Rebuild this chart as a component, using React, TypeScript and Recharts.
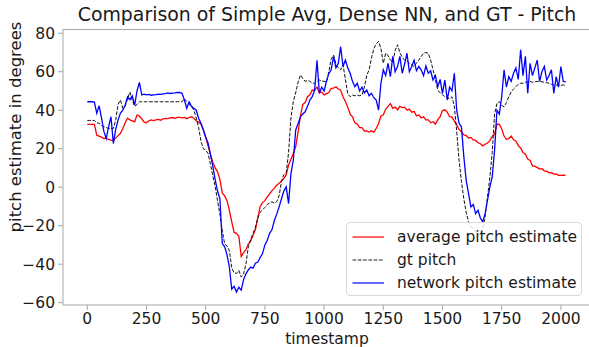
import React from 'react';
import { LineChart, Line, XAxis, YAxis } from 'recharts';

// timestamps: one sample every 10 frames, 0..2020
const STEP = 10;

const avgPitch = [
  32.6, 32.6, 32.6, 32.6, 27, 26.5, 26, 25.3, 25.5, 24.8,
  24.5, 24.3, 25.5, 26.8, 28, 30.5, 33.5, 35.8, 35, 34.5,
  34, 37.5, 37, 35.5, 33.8, 33.5, 34.5, 35, 34.6, 35,
  35.2, 34.8, 35.5, 35.8, 35.6, 36, 36.2, 35.8, 36.3, 36.3,
  36, 36.2, 35.6, 36.2, 36.6, 35.8, 34.5, 33.8, 32.8, 30,
  26, 21.5, 17, 13, 10, 8, 4, -3, -4.5, -7,
  -12, -18, -23.5, -24, -25.5, -36, -34, -32.5, -29.5, -28,
  -25, -22, -16, -10, -8, -7, -5, -3.5, -1.8, -0.5,
  1, 2, 3.2, 4.5, 6.5, 11.5, 14.5, 17.5, 21, 28.5,
  37, 43, 44, 47, 48, 50.5, 50.3, 52, 49, 49.5,
  48, 48.6, 49.2, 51.4, 51.5, 52.2, 51, 50.4, 47, 44.5,
  41.5, 38, 36.5, 33.5, 32.8, 31, 31, 29.2, 29.3, 28.7,
  29.3, 28.6, 30.5, 33, 37, 37.6, 40.5, 42, 43.4, 41,
  41.6, 40.2, 42, 41.4, 41.6, 40, 40.6, 39, 39.4, 37,
  37.6, 36, 36.6, 35, 35, 33.5, 34, 32.8, 35, 36.6,
  39.8, 40.2, 39, 36.6, 36.4, 34.5, 32.4, 30, 28.8, 27.2,
  26.8, 25.6, 25.9, 24.6, 24.3, 23.1, 22.6, 21.5, 22.3, 23,
  24.2, 26.4, 27.6, 32.8, 32.6, 30.3, 26.6, 24.9, 25.2, 26.6,
  24.6, 24, 21.6, 20.4, 18, 17.2, 14.6, 13.9, 11.1, 10.8,
  10.3, 9.4, 9.6, 8.5, 8.3, 7.5, 7.6, 6.8, 6.9, 6.2,
  6.2, 6.3, 6.2,
];

const gtPitch = [
  34.7, 34.7, 34.7, 34.7, 33.5, 33.2, 32, 31.4, 31, 30.5,
  30.5, 30.5, 35, 43, 45.3, 41, 42, 46, 49.5, 45,
  42, 43, 44.4, 44.4, 44.4, 44.4, 44.4, 44.4, 44.4, 44.4,
  44.4, 44.4, 44.4, 44.4, 44.4, 44.4, 44.4, 44.4, 44.4, 44.4,
  44.4, 46, 44.5, 43, 42, 40, 36, 31, 24, 20,
  19.3, 17.5, 12, 6, 0.5, -7, -14, -22.4, -29.5, -30.5,
  -33, -42, -44.5, -44.8, -43.2, -46.7, -45, -40, -31, -27,
  -24, -20.7, -16, -13, -11.8, -10.5, -9, -8.2, -7.6, -8.3,
  -7.5, -4.5, 3, 6.5, 7.5, 18, 36, 44.5, 49, 54.5,
  58.3, 56.5, 55, 55.5, 55, 54, 54, 55, 55.7, 55.2,
  55, 54.8, 60, 66.5, 68.7, 64, 62, 61, 63.5, 56,
  48.5, 47, 47.9, 47.5, 47.8, 47.5, 47.9, 52, 58, 61,
  67, 72, 74.5, 75.7, 72, 64.4, 69.6, 68.5, 66, 65,
  71, 74, 70, 67.5, 66, 65.5, 64.4, 63.5, 62.7, 64.5,
  66, 68, 69.6, 70, 69.6, 66, 61, 56, 50.5, 49,
  48, 47, 46.5, 46, 47, 42, 29, 14, 3, -6,
  -13, -18, -20.5, -21.5, -23, -25, -24, -22, -15, -5,
  5, 18, 38, 43.6, 44.4, 42.5, 41.8, 44, 47, 49.5,
  51, 52.2, 53.5, 54, 54, 54.5, 54.8, 55, 54.5, 54.8,
  55, 54.8, 54.8, 54.5, 54.3, 54, 53.5, 53.1, 53.1, 53,
  53, 53.1, 53,
];

const netPitch = [
  44.4, 44.4, 44.4, 44.2, 38.4, 42.3, 36, 29, 25.3, 31.4,
  36.6, 22.7, 30, 35, 38.5, 40, 42.7, 47, 45.5, 47.5,
  42.7, 50, 54.5, 47.9, 48.3, 48, 48.2, 47.8, 48, 48.1,
  48.3, 48.2, 48.5, 48.6, 49, 48.7, 48.9, 49, 49.2, 49.3,
  48.8, 45.3, 41, 44.4, 42, 41, 40, 35.8, 33.2, 29.7,
  26, 23, 17, 11, 4, -2, -6, -29.3, -31, -35,
  -41.5, -53, -51.5, -54.5, -52, -53.5, -48, -45, -43, -41.5,
  -42, -39.5, -38.9, -36.5, -34.5, -30, -27.6, -24, -22, -17.2,
  -14, -10.2, -6, -2, 0.2, -8.5, 7.1, 14, 29.7, 33,
  36.6, 38, 39.2, 42, 45.3, 47, 50.5, 66, 48.8, 52,
  50, 55, 59, 61, 67.9, 62, 64.4, 73, 62.7, 66.1,
  62, 59.2, 55, 52.2, 54, 50, 52, 49, 50.5, 47.5,
  48.8, 46.5, 45.3, 40, 54, 61, 58, 64.4, 57.4, 68,
  60, 62.7, 68, 59.2, 64, 69.6, 60, 62.7, 66, 60.5,
  62.7, 61, 58, 63, 59.2, 60.5, 55.7, 58, 52.2, 56,
  48.8, 55.7, 45.3, 52, 50, 59.2, 40, 33.2, 31.4, 16,
  3.6, -3.3, -10.2, -9, -13.7, -12, -16, -18, -13.7, -6.8,
  0, 5.4, 19.3, 40, 38, 47, 61, 52, 57.4, 55,
  59.2, 62, 56, 71.4, 58, 68, 48.8, 64.4, 58, 62,
  66, 55, 60, 62.7, 55.7, 58, 61, 48.8, 57.4, 52,
  62.7, 55, 54.8,
];

const xTicks = [0, 250, 500, 750, 1000, 1250, 1500, 1750, 2000];
const yTicks = [-60, -40, -20, 0, 20, 40, 60, 80];

const seriesNames = ['average pitch estimate', 'gt pitch', 'network pitch estimate'];
const titleText = 'Comparison of Simple Avg, Dense NN, and GT - Pitch';

const data = avgPitch.map((v, i) => ({
  t: i * STEP,
  avg: v,
  gt: gtPitch[i],
  net: netPitch[i],
}));

const FONT = '"DejaVu Sans", Verdana, sans-serif';
const AXIS = '#a6a6a6';
const TEXT = '#1a1a1a';

const fmt = (v: number) => String(v).replace('-', '\u2212');

export default function App() {
  const legendItems = [
    { name: seriesNames[0], color: '#ff0000', dash: undefined },
    { name: seriesNames[1], color: '#222222', dash: '3.7 1.6' },
    { name: seriesNames[2], color: '#0000ff', dash: undefined },
  ];
  return (
    <div
      style={{
        position: 'absolute',
        left: 0,
        top: 0,
        width: 589,
        height: 347,
        overflow: 'hidden',
        background: '#fff',
        fontFamily: FONT,
      }}
    >
      <LineChart
        width={589}
        height={347}
        data={data}
        margin={{ top: 29, right: 0, bottom: 0, left: 0 }}
      >
        <XAxis
          dataKey="t"
          type="number"
          domain={[-102.6, 2118.7]}
          ticks={xTicks}
          allowDataOverflow
          height={42}
          stroke={AXIS}
          tickSize={5}
          tickMargin={3}
          tick={{ fill: TEXT, fontSize: 15.5, fontFamily: FONT }}
          tickLine={{ stroke: AXIS }}
          axisLine={{ stroke: AXIS }}
        />
        <YAxis
          type="number"
          domain={[-61.2, 82.2]}
          ticks={yTicks}
          allowDataOverflow
          width={63}
          stroke={AXIS}
          tickSize={5}
          tickMargin={3}
          tickFormatter={fmt}
          tick={{ fill: TEXT, fontSize: 15.5, fontFamily: FONT }}
          tickLine={{ stroke: AXIS }}
          axisLine={{ stroke: AXIS }}
        />
        <Line
          dataKey="avg"
          stroke="#ff0000"
          strokeWidth={1.3}
          dot={false}
          isAnimationActive={false}
          type="linear"
        />
        <Line
          dataKey="gt"
          stroke="#111111"
          strokeWidth={1}
          strokeDasharray="3.7 1.6"
          dot={false}
          isAnimationActive={false}
          type="linear"
        />
        <Line
          dataKey="net"
          stroke="#0000ff"
          strokeWidth={1.3}
          dot={false}
          isAnimationActive={false}
          type="linear"
        />
      </LineChart>

      {/* top spine */}
      <div
        style={{
          position: 'absolute',
          left: 63,
          top: 29,
          width: 526,
          height: 1,
          background: AXIS,
        }}
      />

      {/* title */}
      <div
        style={{
          position: 'absolute',
          left: 0,
          width: 654,
          top: 2,
          textAlign: 'center',
          fontSize: 18.9,
          color: TEXT,
          whiteSpace: 'nowrap',
          lineHeight: '24px',
        }}
      >
        {titleText}
      </div>

      {/* y label */}
      <div
        style={{
          position: 'absolute',
          left: 16,
          top: 127,
          transform: 'translate(-50%, -50%) rotate(-90deg)',
          fontSize: 16.5,
          color: TEXT,
          whiteSpace: 'nowrap',
          lineHeight: '18px',
        }}
      >
        pitch estimate in degrees
      </div>

      {/* x label */}
      <div
        style={{
          position: 'absolute',
          left: 327,
          top: 339,
          transform: 'translate(-50%, -50%)',
          fontSize: 15.5,
          color: TEXT,
          whiteSpace: 'nowrap',
          lineHeight: '18px',
        }}
      >
        timestamp
      </div>

      {/* legend */}
      <div
        style={{
          position: 'absolute',
          left: 346,
          top: 222,
          width: 236,
          height: 74,
          border: '1px solid #d9d9d9',
          borderRadius: 4,
          background: 'rgba(255,255,255,0.8)',
          boxSizing: 'border-box',
        }}
      >
        {legendItems.map((it, i) => (
          <div
            key={it.name}
            style={{
              position: 'absolute',
              left: 0,
              top: 13.5 + i * 23.3 - 9,
              height: 18,
              display: 'flex',
              alignItems: 'center',
            }}
          >
            <svg width={50} height={18} style={{ display: 'block' }}>
              <line
                x1={5.5}
                x2={37}
                y1={9}
                y2={9}
                stroke={it.color}
                strokeWidth={1.2}
                strokeDasharray={it.dash}
              />
            </svg>
            <span
              style={{
                fontSize: 15.5,
                color: TEXT,
                whiteSpace: 'nowrap',
                lineHeight: '18px',
              }}
            >
              {it.name}
            </span>
          </div>
        ))}
      </div>
    </div>
  );
}
